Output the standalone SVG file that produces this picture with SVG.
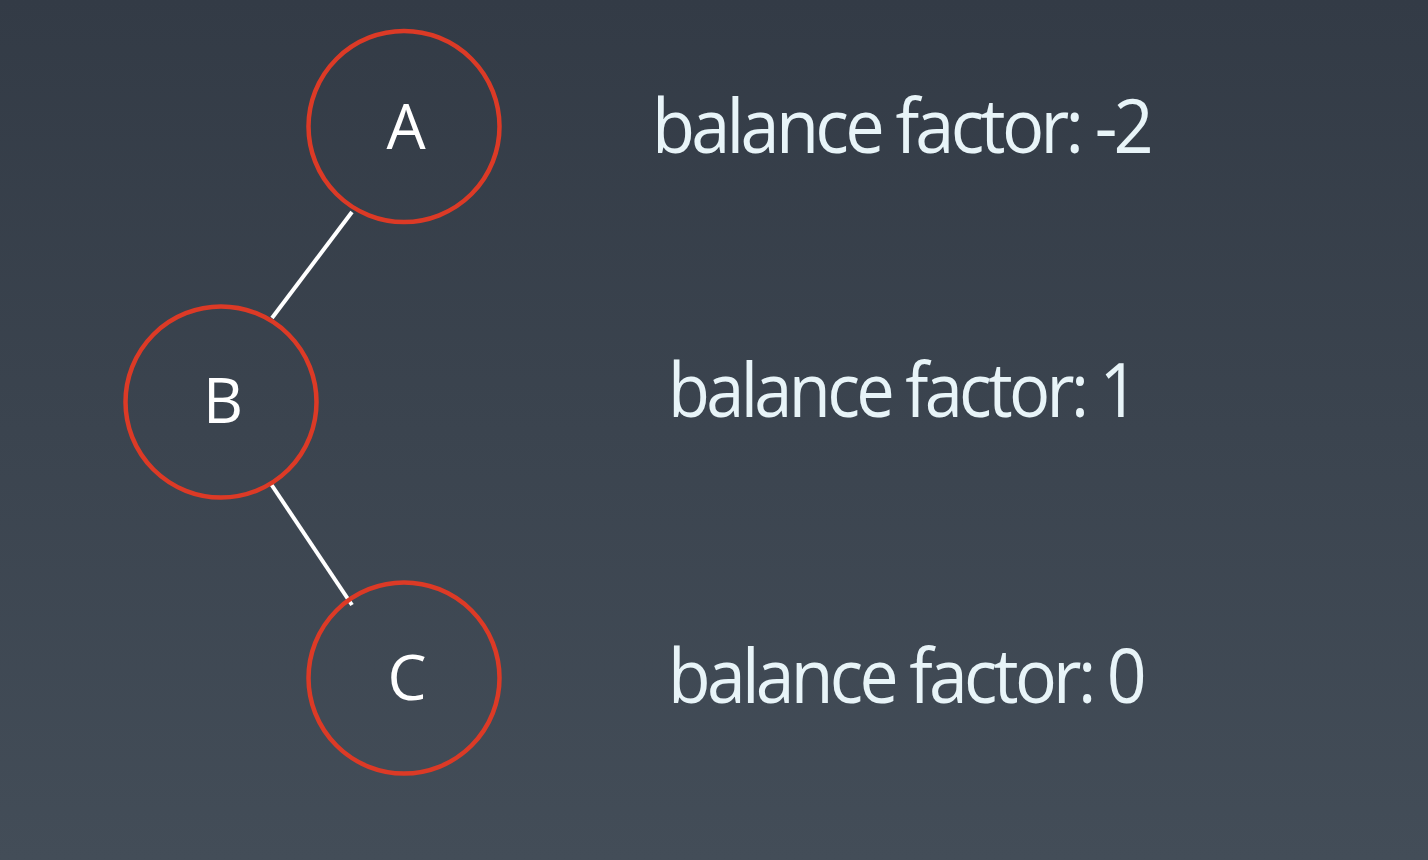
<svg xmlns="http://www.w3.org/2000/svg" width="1428" height="860" viewBox="0 0 1428 860">
<defs>
<linearGradient id="bg" x1="0" y1="0" x2="0" y2="1">
<stop offset="0" stop-color="#333b46"/>
<stop offset="1" stop-color="#434d58"/>
</linearGradient>
</defs>
<style>
.node circle{fill:none;stroke:#dc3a26;stroke-width:4.5}
.node text{font-family:"Open Sans","Noto Sans",sans-serif;font-size:62px;fill:#ffffff;text-anchor:middle}
.edge{stroke:#ffffff;stroke-width:4;fill:none}
.bf{font-family:"Open Sans","Noto Sans",sans-serif;font-size:75px;fill:#e8f4f8;letter-spacing:-4px}
</style>
<rect x="0" y="0" width="1428" height="860" fill="url(#bg)"/>
<g id="connectors">
<line class="edge" x1="352" y1="212" x2="272" y2="318"/>
<line class="edge" x1="271" y1="484" x2="352" y2="605"/>
</g>
<g id="node-A" class="node">
<circle cx="404" cy="126.5" r="95.5"/>
<text x="406" y="149">A</text>
</g>
<g id="node-B" class="node">
<circle cx="221" cy="402" r="95.5"/>
<text x="223" y="423">B</text>
</g>
<g id="node-C" class="node">
<circle cx="404" cy="678" r="95.5"/>
<text x="407" y="700">C</text>
</g>
<g id="labels">
<text class="bf" x="652" y="152.5" textLength="498" lengthAdjust="spacingAndGlyphs">balance factor: -2</text>
<text class="bf" x="668" y="417" textLength="467" lengthAdjust="spacingAndGlyphs">balance factor: 1</text>
<text class="bf" x="668" y="702.5" textLength="475" lengthAdjust="spacingAndGlyphs">balance factor: 0</text>
</g>
</svg>
